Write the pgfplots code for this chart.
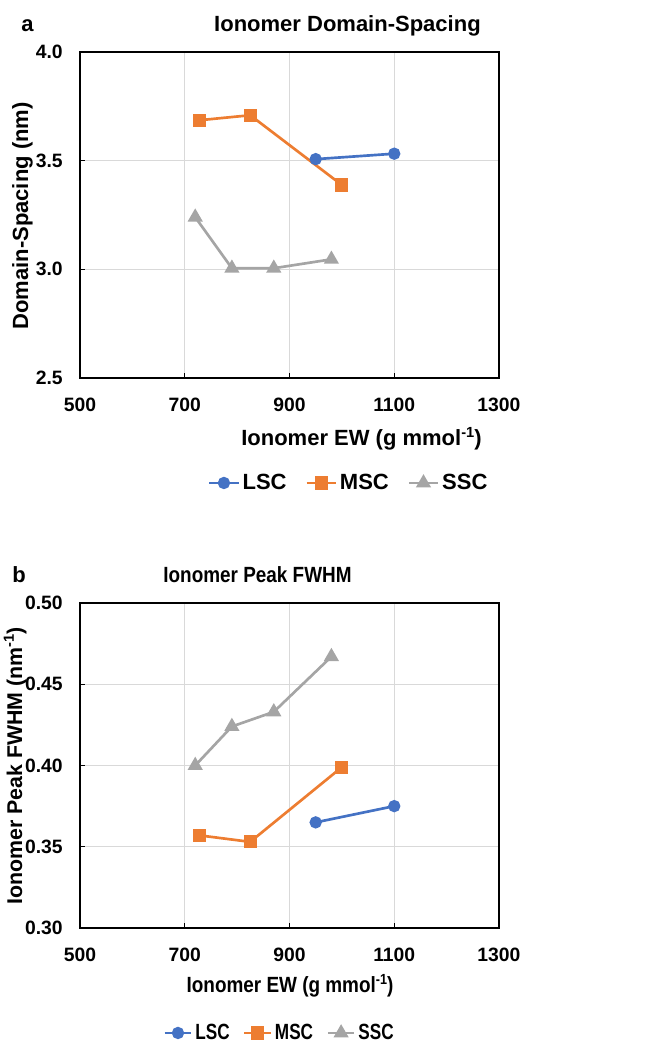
\documentclass[border=0pt]{standalone}
\usepackage{fontspec}
\setmainfont{Liberation Sans}
\newfontfamily\narrowfont{Liberation Sans}[FakeStretch=0.86]
\newfontfamily\narrowerfont{Liberation Sans}[FakeStretch=0.78]
\usepackage{pgfplots}
\pgfplotsset{compat=1.18}
\newcommand{\mysup}[1]{\raisebox{0.38em}{\fontsize{11}{11}\selectfont #1}}
\definecolor{cLSC}{HTML}{4472C4}
\definecolor{cMSC}{HTML}{ED7D31}
\definecolor{cSSC}{HTML}{A5A5A5}
\definecolor{gridc}{HTML}{D9D9D9}
\pgfplotsset{legend image code/.code={\draw[mark repeat=2,mark phase=2,#1] plot coordinates {(0pt,0pt)(11pt,0pt)(22pt,0pt)};}}
\pgfplotsset{
  myaxis/.style={
    scale only axis, width=314.25pt,
    xmin=500, xmax=1300, xtick={500,700,900,1100,1300},
    grid=major, major grid style={color=gridc, line width=0.75pt},
    axis line style={line width=1.5pt, black},
    tick style={black, line width=1pt}, major tick length=3.5pt, tick align=inside,
    xtick pos=bottom, ytick pos=left,
    tick label style={font=\bfseries\fontsize{14.5}{17}\selectfont},
    /pgf/number format/assume math mode=true,
    /pgf/number format/1000 sep={},
    xticklabel style={inner sep=0pt, yshift=-15pt},
    yticklabel style={inner sep=0pt, xshift=-12.75pt},
    legend columns=3,
    legend style={draw=none, fill=none, anchor=center, nodes={inner sep=2pt}},
    every axis plot/.append style={line width=2pt},
  },
  lsc/.style={color=cLSC, mark=*, mark size=3.6pt, mark options={solid, fill=cLSC}},
  msc/.style={color=cMSC, mark=square*, mark size=3.9pt, mark options={solid, fill=cMSC}},
  ssc/.style={color=cSSC, mark=triangle*, mark size=4.6pt, mark options={solid, fill=cSSC}},
}
\begin{document}
\begin{tikzpicture}
\useasboundingbox (0,0) rectangle (489.75pt,783.75pt);
% ---------- panel a ----------
\begin{axis}[myaxis, at={(60pt,500.25pt)}, anchor=south west, height=244.5pt,
  ymin=2.5, ymax=4.0, ytick={2.5,3.0,3.5,4.0},
  yticklabel style={/pgf/number format/.cd, fixed, fixed zerofill, precision=1},
  legend style={at={(0.642,-0.322)}, font=\bfseries\fontsize{16.5}{19}\selectfont,
    /tikz/every even column/.append style={column sep=12pt}}]
\addplot[lsc] coordinates {(950,3.507) (1100,3.532)};
\addlegendentry{LSC}
\addplot[msc] coordinates {(728,3.686) (825,3.709) (1000,3.388)};
\addlegendentry{MSC}
\addplot[ssc] coordinates {(720,3.240) (790,3.005) (870,3.005) (980,3.046)};
\addlegendentry{SSC}
\end{axis}
% ---------- panel b ----------
\begin{axis}[myaxis, at={(60pt,87.75pt)}, anchor=south west, height=243.75pt,
  ymin=0.30, ymax=0.50, ytick={0.30,0.35,0.40,0.45,0.50},
  yticklabel style={/pgf/number format/.cd, fixed, fixed zerofill, precision=2},
  legend image code/.code={\draw[mark repeat=2,mark phase=2,#1] plot coordinates {(0pt,0pt)(10pt,0pt)(20pt,0pt)};},
  legend style={at={(0.477,-0.323)}, font=\narrowerfont\bfseries\fontsize{16.5}{19}\selectfont,
    /tikz/every even column/.append style={column sep=8pt}}]
\addplot[lsc] coordinates {(950,0.365) (1100,0.375)};
\addlegendentry{LSC}
\addplot[msc] coordinates {(728,0.357) (825,0.353) (1000,0.399)};
\addlegendentry{MSC}
\addplot[ssc] coordinates {(720,0.400) (790,0.424) (870,0.433) (980,0.467)};
\addlegendentry{SSC}
\end{axis}
% ---------- texts ----------
\node[anchor=base west, inner sep=0pt, font=\bfseries\fontsize{16.5}{19}\selectfont] at (15.75pt,759.75pt) {a};
\node[anchor=base, inner sep=0pt, font=\bfseries\fontsize{16.5}{19}\selectfont] at (260.6pt,759.75pt) {Ionomer Domain-Spacing};
\node[anchor=base, inner sep=0pt, font=\bfseries\fontsize{16.5}{19}\selectfont] at (271.1pt,449.25pt) {Ionomer EW (g mmol\mysup{-1})};
\node[anchor=base, rotate=90, inner sep=0pt, font=\bfseries\fontsize{16.5}{19}\selectfont] at (21pt,621.75pt) {Domain-Spacing (nm)};
\node[anchor=base west, inner sep=0pt, font=\bfseries\fontsize{16.5}{19}\selectfont] at (9pt,346.5pt) {b};
\node[anchor=base, inner sep=0pt, font=\narrowfont\bfseries\fontsize{16.5}{19}\selectfont] at (193.1pt,346.5pt) {Ionomer Peak FWHM};
\node[anchor=base, inner sep=0pt, font=\narrowfont\bfseries\fontsize{16.5}{19}\selectfont] at (217.5pt,39pt) {Ionomer EW (g mmol\mysup{-1})};
\node[anchor=base, rotate=90, inner sep=0pt, font=\bfseries\fontsize{16}{19}\selectfont] at (16.5pt,209.25pt) {Ionomer Peak FWHM (nm\mysup{-1})};
\end{tikzpicture}
\end{document}
